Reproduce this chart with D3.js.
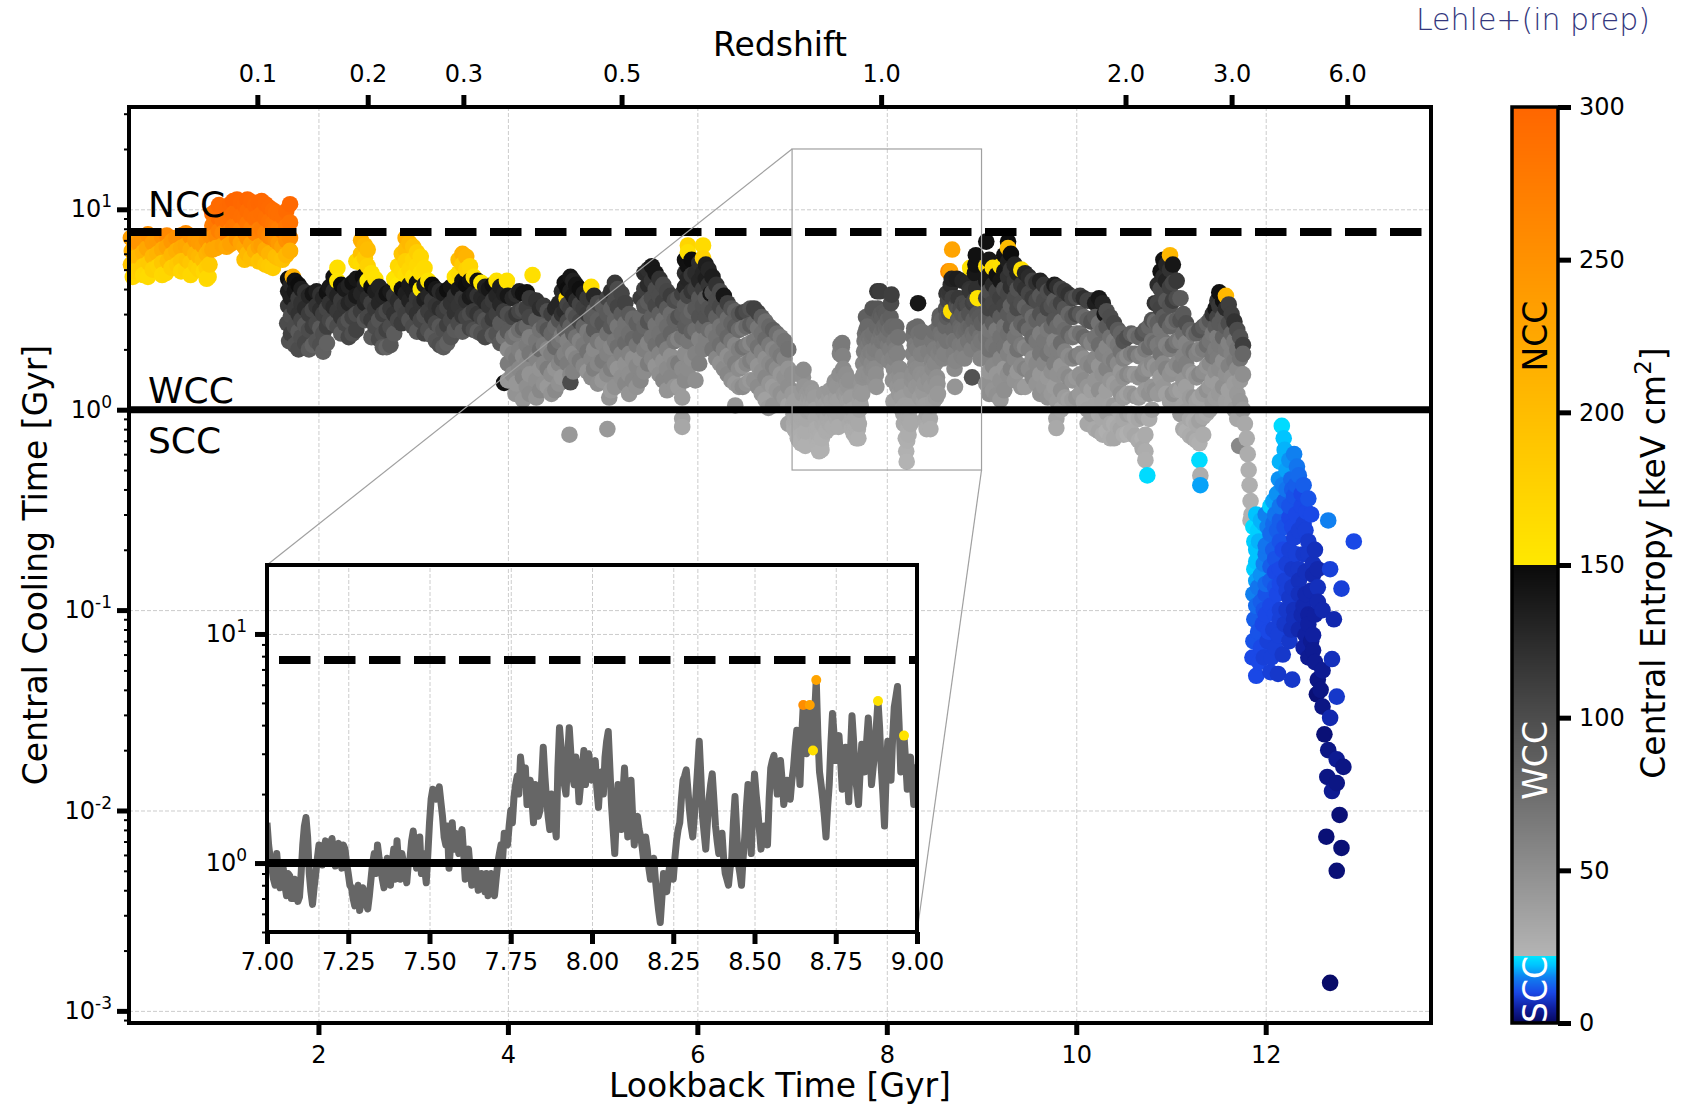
<!DOCTYPE html>
<html><head><meta charset="utf-8">
<script src="https://cdn.jsdelivr.net/npm/d3@7"></script>
<style>
body{margin:0;background:#fff;}
svg text{font-family:"DejaVu Sans",sans-serif;}
</style></head><body>
<svg id="chart" width="1683" height="1107"></svg>
<script>
// ---------------- DATA: [lookback time (Gyr), central cooling time (Gyr), central entropy (keV cm^2)]
const nccEpoch = [
[0.02,7.2,235],[0.03,6.2,215],[0.02,5.3,190],[0.04,4.6,170],
[0.1,6.8,245],[0.1,5.8,205],[0.12,5.0,180],
[0.2,7.5,250],[0.19,6.4,225],[0.21,5.4,185],[0.2,4.6,165],
[0.3,7.0,240],[0.3,6.0,210],[0.31,5.2,175],
[0.4,7.4,260],[0.4,6.5,230],[0.41,5.5,200],[0.39,4.8,170],
[0.5,7.2,250],[0.5,6.2,215],[0.51,5.3,185],
[0.6,7.6,255],[0.6,6.6,225],[0.61,5.6,195],[0.6,5.0,175],
[0.7,7.0,240],[0.7,6.0,210],[0.71,5.2,180],
[0.78,6.6,235],[0.78,5.6,200],[0.79,4.9,170],
[0.85,7.5,250],[0.85,6.3,215],[0.85,5.3,185],[0.84,4.6,168],
[0.88,9.5,285],[0.88,8.3,275],[0.88,7.2,250],[0.88,6.3,225],
[0.95,10.5,295],[0.95,9.0,290],[0.95,7.8,270],
[1.03,10.0,295],[1.03,8.8,285],[1.03,7.5,265],[1.03,6.5,225],
[1.1,11.0,300],[1.1,9.5,290],[1.1,8.2,280],
[1.18,10.8,298],[1.18,9.2,290],[1.18,7.9,270],[1.18,6.8,230],
[1.25,11.2,300],[1.25,9.8,292],[1.25,8.5,280],[1.25,7.2,250],[1.25,6.0,205],
[1.33,10.5,295],[1.33,9.0,288],[1.33,7.6,265],[1.33,6.2,215],
[1.4,11.0,298],[1.4,9.5,290],[1.4,8.0,275],[1.4,6.6,235],[1.4,5.6,195],
[1.48,10.2,295],[1.48,8.7,285],[1.48,7.3,260],[1.48,6.0,210],[1.48,5.2,185],
[1.55,9.6,290],[1.55,8.2,278],[1.55,7.0,250],[1.55,5.8,200],
[1.62,9.2,290],[1.62,7.8,270],[1.62,6.5,230],[1.62,5.6,195],
[1.7,10.6,298],[1.7,8.6,285],[1.7,7.2,255],[1.7,6.2,215],
[1.73,4.6,215]
];
const nccEpochFill = [
[0.06,6.7,228],[0.06,5.7,200],[0.06,4.9,176],
[0.15,7.2,245],[0.15,6.1,212],[0.15,5.2,182],[0.15,4.7,168],
[0.25,6.8,238],[0.25,5.8,205],[0.25,5.0,178],
[0.35,7.3,250],[0.35,6.3,220],[0.35,5.4,188],[0.35,4.7,168],
[0.45,6.9,242],[0.45,5.9,208],[0.45,5.1,180],
[0.55,7.4,252],[0.55,6.4,222],[0.55,5.5,192],[0.55,4.9,172],
[0.65,7.3,248],[0.65,6.3,218],[0.65,5.4,188],[0.65,4.7,170],
[0.74,6.8,238],[0.74,5.8,205],[0.74,5.0,176],
[0.82,7.0,245],[0.82,6.0,210],[0.82,5.1,180],[0.82,4.5,166],
[0.92,9.8,290],[0.92,8.5,278],[0.92,7.4,258],[0.92,6.4,225],
[0.99,10.2,294],[0.99,8.8,284],[0.99,7.6,262],[0.99,6.6,230],
[1.07,10.6,296],[1.07,9.1,287],[1.07,7.8,268],[1.07,6.7,232],
[1.14,11.2,300],[1.14,9.6,291],[1.14,8.3,278],[1.14,7.1,248],
[1.22,10.5,296],[1.22,9.0,288],[1.22,7.7,266],[1.22,6.5,225],[1.22,5.6,195],
[1.29,10.9,298],[1.29,9.4,290],[1.29,8.0,272],[1.29,6.7,232],[1.29,5.7,198],
[1.37,10.8,298],[1.37,9.2,289],[1.37,7.9,270],[1.37,6.5,228],[1.37,5.5,192],
[1.44,10.6,296],[1.44,9.0,288],[1.44,7.6,266],[1.44,6.3,220],[1.44,5.3,188],
[1.52,9.9,292],[1.52,8.5,282],[1.52,7.2,256],[1.52,6.0,210],[1.52,5.1,182],
[1.58,9.4,290],[1.58,8.0,274],[1.58,6.8,240],[1.58,5.7,198],
[1.66,9.8,294],[1.66,8.2,280],[1.66,7.0,250],[1.66,5.9,205]
];
const earlyWcc = [
[1.68,4.5,145],[1.68,3.9,135],[1.68,3.3,115],[1.67,2.7,100],[1.69,2.2,96],
[1.75,4.4,145],[1.75,3.9,140],[1.75,3.2,115],[1.75,2.6,100],[1.75,2.1,95],
[1.82,4.0,135],[1.82,3.4,120],[1.82,2.8,105],[1.82,2.3,98],
[1.9,3.7,130],[1.9,3.0,112],[1.9,2.5,100],[1.9,2.0,90],
[1.98,3.9,135],[1.98,3.3,118],[1.98,2.7,104],[1.98,2.2,94],
[2.05,3.6,128],[2.05,3.0,110],[2.05,2.4,98],[2.05,1.95,85],
[2.12,4.1,140],[2.12,3.4,120],[2.12,2.8,105],
[2.2,5.1,160],[2.2,4.4,155],[2.2,3.7,132],[2.2,3.1,115],[2.2,2.6,100],
[2.28,4.0,138],[2.28,3.3,118],[2.28,2.7,103],
[2.36,4.3,145],[2.36,3.5,125],[2.36,2.9,108],[2.36,2.4,97],
[2.45,7.0,215],[2.45,6.0,195],[2.45,5.4,165],[2.47,4.6,148],[2.45,3.8,130],[2.45,3.1,112],
[2.52,6.3,200],[2.52,5.2,175],[2.52,4.4,150],[2.52,3.6,125],[2.52,2.9,105],
[2.6,4.5,158],[2.6,3.9,135],[2.6,3.2,115],[2.6,2.6,100],
[2.68,3.7,130],[2.68,3.0,110],[2.68,2.4,97],[2.68,2.05,90],
[2.76,3.9,138],[2.76,3.2,115],[2.76,2.6,100],[2.76,2.1,92],
[2.84,5.2,168],[2.84,4.2,150],[2.84,3.5,125],[2.84,2.8,105],
[2.92,7.2,215],[2.92,6.3,200],[2.92,5.5,178],[2.92,4.7,160],[2.92,3.8,135],[2.92,3.0,110],
[3.0,6.5,195],[3.0,5.6,172],[3.0,4.6,158],[3.0,3.9,138],[3.0,3.2,115],[3.0,2.6,100],
[3.08,5.8,170],[3.08,4.8,162],[3.08,4.0,150],[3.08,3.4,120],[3.08,2.8,105],
[3.16,4.4,155],[3.16,3.7,130],[3.16,3.1,112],[3.16,2.5,98],
[3.24,4.0,140],[3.24,3.3,118],[3.24,2.7,103],[3.24,2.2,94],
[3.32,3.8,135],[3.32,3.1,112],[3.32,2.5,98],[3.32,2.05,88],
[3.4,4.1,142],[3.4,3.4,120],[3.4,2.8,104],[3.4,2.3,95],
[3.48,5.6,200],[3.48,4.8,165],[3.48,4.0,140],[3.48,3.3,118],[3.48,2.7,102],
[3.56,5.8,210],[3.56,5.0,175],[3.56,4.2,148],[3.56,3.5,122],[3.56,2.9,106],
[3.64,4.6,160],[3.64,3.8,135],[3.64,3.1,112],[3.64,2.5,98],
[3.72,4.3,150],[3.72,3.6,128],[3.72,2.9,106],[3.72,2.4,96],
[3.8,4.0,140],[3.8,3.3,118],[3.8,2.7,102],
[3.88,4.4,158],[3.88,3.7,130],[3.88,3.0,110],[3.88,2.4,95],
[3.96,3.8,133],[3.96,3.1,112],[3.96,2.3,70],[3.96,1.36,145],[3.99,4.4,158],
[4.05,3.6,128],[4.05,2.9,105],[4.05,2.3,72],[4.05,1.9,60],[4.05,1.5,52],[4.08,1.2,47],
[4.12,3.9,135],[4.12,3.1,105],[4.12,2.5,75],[4.12,2.0,62],[4.12,1.6,55],[4.16,1.12,44],
[4.2,3.85,145],[4.2,3.2,110],[4.2,2.6,80],[4.2,2.1,65],[4.2,1.7,55],[4.2,1.3,50],
[4.26,4.7,160]
];
const earlyWccFill = [
[1.71,4.2,130],[1.71,3.6,135],[1.71,2.95,98],[1.71,2.4,108],
[1.79,4.2,148],[1.79,3.6,113],[1.79,3.0,120],[1.79,2.45,90],[1.79,2.0,100],
[1.86,3.85,120],[1.86,3.2,125],[1.86,2.65,92],[1.86,2.15,104],
[1.94,3.8,142],[1.94,3.15,104],[1.94,2.6,110],[1.94,2.1,84],
[2.02,3.75,120],[2.02,3.15,124],[2.02,2.55,90],[2.02,2.1,98],
[2.09,3.85,144],[2.09,3.2,105],[2.09,2.6,110],[2.09,2.15,84],
[2.16,4.6,145],[2.16,3.9,126],[2.16,3.25,126],[2.16,2.7,92],
[2.24,4.2,148],[2.24,3.5,114],[2.24,2.9,118],[2.24,2.4,88],
[2.32,4.15,132],[2.32,3.4,130],[2.32,2.8,95],[2.32,2.3,104],
[2.4,5.5,168],[2.4,4.5,140],[2.4,3.7,138],[2.4,3.0,100],[2.4,2.5,108],
[2.49,6.6,205],[2.49,5.7,182],[2.49,4.2,132],[2.49,3.4,130],[2.49,2.8,94],
[2.56,4.8,160],[2.56,4.1,148],[2.56,3.4,110],[2.56,2.8,114],[2.56,2.3,88],
[2.64,4.1,132],[2.64,3.4,130],[2.64,2.8,94],[2.64,2.25,102],
[2.72,3.8,143],[2.72,3.1,102],[2.72,2.5,108],[2.72,2.05,82],
[2.8,4.5,155],[2.8,3.7,120],[2.8,3.0,120],[2.8,2.4,88],
[2.88,6.0,190],[2.88,4.9,165],[2.88,4.0,148],[2.88,3.3,108],[2.88,2.7,112],
[2.96,6.8,205],[2.96,5.0,170],[2.96,4.2,138],[2.96,3.5,132],[2.96,2.8,96],
[3.04,6.1,180],[3.04,5.2,168],[3.04,4.3,145],[3.04,3.6,116],[3.04,3.0,120],[3.04,2.45,90],
[3.12,5.1,165],[3.12,4.2,136],[3.12,3.55,134],[3.12,2.95,98],[3.12,2.4,106],
[3.2,4.2,148],[3.2,3.5,114],[3.2,2.9,116],[3.2,2.35,88],
[3.28,3.9,126],[3.28,3.2,124],[3.28,2.6,92],[3.28,2.1,98],
[3.36,3.95,146],[3.36,3.25,106],[3.36,2.65,110],[3.36,2.15,84],
[3.44,4.6,158],[3.44,3.7,120],[3.44,3.05,120],[3.44,2.5,90],
[3.52,6.0,215],[3.52,5.3,185],[3.52,4.4,145],[3.52,3.6,116],[3.52,2.95,116],[3.52,2.45,88],
[3.6,5.2,172],[3.6,4.4,145],[3.6,3.65,138],[3.6,3.0,100],[3.6,2.55,106],
[3.68,4.4,145],[3.68,3.7,120],[3.68,3.0,118],[3.68,2.45,88],
[3.76,4.1,133],[3.76,3.45,130],[3.76,2.8,95],[3.76,2.3,103],
[3.84,4.2,145],[3.84,3.5,114],[3.84,2.85,114],[3.84,2.35,87],
[3.92,4.1,135],[3.92,3.35,128],[3.92,2.7,90],[3.92,2.15,90],
[4.0,3.7,140],[4.0,3.0,98],[4.0,2.45,90],[4.0,2.0,54],[4.0,1.7,64],[4.0,1.4,44],
[4.09,3.75,122],[4.09,3.0,115],[4.09,2.4,66],[4.09,1.8,66],[4.09,1.35,44],
[4.16,3.8,145],[4.16,3.15,98],[4.16,2.55,88],[4.16,1.85,52],[4.16,1.45,58],
[4.23,3.6,115],[4.23,2.9,105],[4.23,2.3,62],[4.23,1.9,68],[4.23,1.5,46],[4.23,1.2,52]
];
const midWcc = [
[4.3,3.5,120],[4.3,2.8,90],[4.3,2.2,68],[4.3,1.8,58],[4.3,1.4,50],[4.3,1.15,45],
[4.38,3.3,115],[4.38,2.6,85],[4.38,2.1,66],[4.38,1.7,56],[4.38,1.35,48],
[4.46,3.0,110],[4.46,2.4,80],[4.46,1.9,62],[4.46,1.5,52],[4.46,1.2,46],
[4.54,3.4,130],[4.54,2.8,95],[4.54,2.2,70],[4.54,1.7,56],[4.54,1.35,48],
[4.6,4.3,145],[4.62,3.6,165],[4.6,3.1,125],[4.6,2.5,85],[4.6,1.9,60],
[4.66,4.6,140],[4.66,3.9,135],[4.66,3.2,110],[4.66,2.6,85],[4.66,2.0,62],[4.66,1.5,55],[4.66,1.37,100],[4.65,0.75,42],
[4.72,4.2,142],[4.72,3.5,125],[4.72,2.9,98],[4.72,2.3,72],[4.72,1.8,58],
[4.8,3.8,135],[4.8,3.2,110],[4.8,2.6,82],[4.8,2.1,66],[4.8,1.65,56],
[4.88,4.1,160],[4.88,3.5,115],[4.88,2.9,90],[4.88,2.3,70],[4.88,1.8,57],[4.88,1.45,52],
[4.95,3.4,100],[4.95,2.8,85],[4.95,2.2,68],[4.95,1.7,56],[4.95,1.35,50],
[5.05,3.6,105],[5.05,3.0,90],[5.05,2.4,72],[5.05,1.9,60],[5.05,1.5,52],[5.07,1.15,45],[5.05,0.8,42],
[5.13,4.3,115],[5.13,3.5,100],[5.13,2.8,82],[5.13,2.2,68],[5.13,1.7,56],[5.13,1.3,48],
[5.2,3.8,105],[5.2,3.0,88],[5.2,2.4,72],[5.2,1.9,60],[5.2,1.45,50],
[5.28,3.0,90],[5.28,2.4,74],[5.28,1.9,60],[5.28,1.5,50],[5.28,1.2,45],
[5.36,2.7,85],[5.36,2.1,68],[5.36,1.65,56],[5.36,1.3,47],
[5.44,4.8,125],[5.44,4.0,110],[5.44,3.3,95],[5.44,2.6,80],[5.44,2.0,62],[5.44,1.55,52],
[5.52,5.2,140],[5.52,4.4,118],[5.52,3.6,100],[5.52,2.9,86],[5.52,2.3,70],[5.52,1.8,57],
[5.6,4.5,120],[5.6,3.7,100],[5.6,3.0,86],[5.6,2.4,72],[5.6,1.9,58],[5.6,1.5,50],
[5.68,3.9,105],[5.68,3.2,90],[5.68,2.6,76],[5.68,2.0,62],[5.68,1.6,53],[5.68,1.25,46],
[5.76,3.5,100],[5.76,2.8,82],[5.76,2.2,68],[5.76,1.7,55],[5.76,1.3,46],
[5.84,3.8,110],[5.84,3.0,88],[5.84,2.3,70],[5.84,1.6,52],[5.84,1.15,40],[5.84,0.9,35],[5.84,0.82,32],
[5.9,6.6,172],[5.9,6.1,160],[5.9,5.2,145],[5.9,4.5,130],[5.9,3.7,105],[5.9,2.9,86],[5.9,2.2,68],[5.9,1.6,52],
[5.98,4.8,125],[5.98,4.0,110],[5.98,3.2,92],[5.98,2.5,75],[5.98,1.9,60],[5.98,1.4,50],
[6.06,6.6,165],[6.06,5.7,175],[6.06,4.8,130],[6.06,4.0,112],[6.06,3.3,95],[6.06,2.6,78],[6.06,2.0,62],
[6.12,5.0,130],[6.12,4.2,118],[6.14,3.8,140],[6.12,3.2,95],[6.12,2.5,76],
[6.2,4.2,120],[6.2,3.5,100],[6.2,2.9,85],[6.2,2.3,70],[6.2,1.8,56],
[6.28,3.7,140],[6.28,3.1,92],[6.28,2.5,76],[6.28,2.0,62],[6.28,1.6,53],
[6.36,3.2,95],[6.36,2.7,82],[6.36,2.2,68],[6.36,1.8,56],[6.36,1.4,48],[6.4,1.05,42],
[6.44,3.0,92],[6.44,2.5,76],[6.44,2.0,62],[6.44,1.6,52],[6.44,1.3,46],
[6.52,3.1,100],[6.52,2.6,78],[6.52,2.1,64],[6.52,1.7,55],[6.52,1.35,47],
[6.6,3.2,108],[6.6,2.7,80],[6.6,2.2,66],[6.6,1.8,55],[6.6,1.4,48],
[6.68,2.9,88],[6.68,2.4,72],[6.68,1.95,60],[6.68,1.55,50],[6.68,1.2,44],
[6.76,2.6,80],[6.76,2.1,66],[6.76,1.7,54],[6.76,1.35,46],[6.75,1.02,40],
[6.84,2.4,74],[6.84,1.95,62],[6.84,1.6,52],[6.84,1.25,44],
[6.92,2.2,70],[6.92,1.8,57],[6.92,1.45,48],[6.92,1.15,42]
];
const midWccFill = [
[4.34,3.2,124],[4.34,2.5,72],[4.34,2.0,76],[4.34,1.6,46],[4.34,1.25,55],
[4.42,3.1,98],[4.42,2.5,94],[4.42,2.0,55],[4.42,1.6,64],[4.42,1.3,42],
[4.5,3.2,130],[4.5,2.6,78],[4.5,2.05,78],[4.5,1.6,46],[4.5,1.25,54],
[4.57,3.9,126],[4.57,3.0,120],[4.57,2.35,64],[4.57,1.8,68],[4.57,1.45,44],
[4.63,4.0,148],[4.63,3.35,106],[4.63,2.75,102],[4.63,2.2,60],[4.63,1.7,64],
[4.69,4.4,132],[4.69,3.7,140],[4.69,3.0,90],[4.69,2.4,86],[4.69,1.9,52],[4.69,1.55,60],
[4.76,4.0,146],[4.76,3.35,106],[4.76,2.75,104],[4.76,2.2,60],[4.76,1.75,66],
[4.84,3.6,115],[4.84,3.0,112],[4.84,2.45,66],[4.84,1.95,72],[4.84,1.55,46],
[4.91,3.7,128],[4.91,3.1,88],[4.91,2.5,90],[4.91,2.0,54],[4.91,1.6,62],
[5.0,3.3,88],[5.0,2.7,94],[5.0,2.15,58],[5.0,1.75,66],[5.0,1.4,44],
[5.09,3.9,122],[5.09,3.2,84],[5.09,2.6,90],[5.09,2.05,56],[5.09,1.6,62],[5.09,1.25,40],
[5.16,4.0,100],[5.16,3.25,106],[5.16,2.6,68],[5.16,2.05,74],[5.16,1.6,46],
[5.24,3.4,108],[5.24,2.7,72],[5.24,2.15,78],[5.24,1.7,48],[5.24,1.35,56],
[5.32,2.85,78],[5.32,2.25,80],[5.32,1.8,50],[5.32,1.4,56],
[5.4,3.6,114],[5.4,2.9,78],[5.4,2.3,82],[5.4,1.8,50],[5.4,1.4,56],
[5.48,5.0,122],[5.48,4.2,126],[5.48,3.45,88],[5.48,2.75,94],[5.48,2.15,58],[5.48,1.7,64],
[5.56,4.8,140],[5.56,4.0,100],[5.56,3.3,104],[5.56,2.65,70],[5.56,2.1,74],[5.56,1.65,46],
[5.64,4.2,102],[5.64,3.45,108],[5.64,2.8,72],[5.64,2.2,78],[5.64,1.75,48],[5.64,1.4,56],
[5.72,3.7,112],[5.72,3.0,76],[5.72,2.4,82],[5.72,1.85,50],[5.72,1.45,56],
[5.8,3.6,94],[5.8,2.9,96],[5.8,2.25,60],[5.8,1.7,64],[5.8,1.3,40],
[5.87,5.6,145],[5.87,4.8,124],[5.87,4.1,128],[5.87,3.3,86],[5.87,2.6,88],[5.87,1.9,52],[5.87,1.4,54],
[5.94,5.6,148],[5.94,4.7,116],[5.94,3.9,118],[5.94,3.1,80],[5.94,2.45,84],[5.94,1.8,50],
[6.02,5.4,124],[6.02,4.4,130],[6.02,3.6,92],[6.02,2.9,96],[6.02,2.25,60],[6.02,1.7,62],
[6.09,5.3,135],[6.09,4.5,135],[6.09,3.6,90],[6.09,2.9,96],[6.09,2.25,62],
[6.16,4.6,136],[6.16,3.85,98],[6.16,3.1,100],[6.16,2.45,66],[6.16,2.0,70],
[6.24,3.9,102],[6.24,3.25,104],[6.24,2.6,70],[6.24,2.1,74],[6.24,1.7,48],
[6.32,3.4,110],[6.32,2.85,76],[6.32,2.3,80],[6.32,1.85,50],[6.32,1.5,56],
[6.4,3.1,84],[6.4,2.6,88],[6.4,2.1,56],[6.4,1.7,62],[6.4,1.35,42],
[6.48,3.05,106],[6.48,2.55,68],[6.48,2.05,72],[6.48,1.65,46],[6.48,1.3,52],
[6.56,3.2,95],[6.56,2.65,88],[6.56,2.15,56],[6.56,1.75,62],[6.56,1.4,42],
[6.64,3.05,108],[6.64,2.55,68],[6.64,2.05,72],[6.64,1.65,46],[6.64,1.3,52],
[6.72,2.75,74],[6.72,2.25,78],[6.72,1.8,50],[6.72,1.45,56],[6.72,1.12,36],
[6.8,2.5,86],[6.8,2.0,56],[6.8,1.65,60],[6.8,1.3,40],[6.8,1.05,46],
[6.88,2.3,64],[6.88,1.85,66],[6.88,1.5,44],[6.88,1.2,48],
[6.96,2.0,72],[6.96,1.6,46],[6.96,1.3,50],[6.96,1.05,34],[6.96,0.85,36]
];
// zoom window, 7-9 Gyr (also drawn in the inset)
const zoomWindow = [
[7.00,1.50,50],[7.01,1.05,37],[7.02,0.85,30],[7.03,1.10,38],[7.04,0.78,28],[7.05,0.95,33],[7.06,0.72,26],[7.07,0.88,31],[7.08,0.70,26],[7.09,0.74,27],
[7.10,0.71,26],[7.11,1.20,42],[7.12,1.58,52],[7.13,0.90,31],[7.14,0.66,25],[7.15,0.90,31],[7.16,1.20,42],[7.17,0.98,34],[7.18,1.25,43],[7.19,1.05,37],
[7.20,1.28,44],[7.21,0.97,34],[7.22,1.22,42],[7.23,0.95,33],[7.24,1.15,40],[7.25,0.90,31],[7.26,0.78,28],[7.27,0.65,25],[7.28,0.80,28],[7.29,0.68,25],
[7.30,0.74,27],[7.31,0.63,24],[7.32,0.85,30],[7.33,1.10,38],[7.34,1.20,42],[7.35,0.95,33],[7.36,0.78,28],[7.37,1.05,37],[7.38,0.80,28],[7.39,1.15,40],
[7.40,1.25,43],[7.41,0.85,30],[7.42,1.00,35],[7.43,0.82,29],[7.44,1.05,37],[7.45,1.38,47],[7.46,0.95,33],[7.47,1.30,45],[7.48,1.10,38],[7.49,0.82,29],
[7.50,1.50,50],[7.51,2.10,65],[7.52,1.90,60],[7.53,2.15,66],[7.54,1.60,53],[7.55,1.20,42],[7.56,0.95,33],[7.57,1.50,50],[7.58,1.35,46],[7.59,1.10,38],
[7.60,1.40,48],[7.61,0.85,30],[7.62,1.15,40],[7.63,0.80,28],[7.64,1.00,35],[7.65,0.76,27],[7.66,0.90,31],[7.67,0.75,27],[7.68,0.72,26],[7.69,0.90,31],
[7.70,0.72,26],[7.71,1.00,35],[7.72,1.20,42],[7.73,1.35,46],[7.74,1.20,42],[7.75,1.70,55],[7.76,1.95,62],[7.77,2.40,72],[7.78,2.90,85],[7.79,2.20,68],
[7.80,1.80,58],[7.81,2.30,70],[7.82,1.50,50],[7.83,1.95,62],[7.84,1.70,55],[7.85,3.20,93],[7.86,1.90,60],[7.87,1.40,48],[7.88,1.60,53],[7.89,1.30,45],
[7.90,3.90,115],[7.91,2.60,78],[7.92,2.00,63],[7.93,3.90,112],[7.94,2.40,72],[7.95,2.90,85],[7.96,1.85,59],[7.97,2.60,78],[7.98,2.20,68],[7.99,3.00,88],
[8.00,2.30,70],[8.01,2.80,82],[8.02,1.75,57],[8.03,2.50,75],[8.04,2.90,85],[8.05,3.75,110],[8.06,1.80,58],[8.07,1.10,38],[8.08,2.20,68],[8.09,1.40,48],
[8.10,2.60,78],[8.11,1.30,45],[8.12,2.30,70],[8.13,1.20,42],[8.14,1.60,53],[8.15,1.30,45],[8.16,1.00,35],[8.17,1.15,40],[8.18,0.85,30],[8.19,1.05,37],
[8.20,0.72,26],[8.21,0.55,23],[8.22,0.90,31],[8.23,0.75,27],[8.24,1.00,35],[8.25,0.85,30],[8.26,1.25,43],[8.27,1.50,50],[8.28,2.30,70],[8.29,2.55,76],
[8.30,1.70,55],[8.31,1.30,45],[8.32,2.00,63],[8.33,3.40,140],[8.34,1.60,53],[8.35,1.15,40],[8.36,1.90,60],[8.37,2.45,73],[8.38,1.45,49],[8.39,1.10,38],
[8.40,1.35,46],[8.41,0.90,31],[8.42,0.80,28],[8.43,1.05,37],[8.44,1.95,62],[8.45,1.00,35],[8.46,0.80,28],[8.47,1.30,45],[8.48,2.20,68],[8.49,1.10,38],
[8.50,2.45,73],[8.51,1.70,55],[8.52,1.15,40],[8.53,1.45,49],[8.54,1.20,42],[8.55,2.60,78],[8.56,2.95,86],[8.57,2.00,63],[8.58,2.80,82],[8.59,1.80,58],
[8.60,2.30,70],[8.61,1.90,60],[8.62,2.60,80],[8.63,3.80,118],[8.64,2.20,70],[8.65,4.90,255],[8.66,3.00,95],[8.67,4.90,232],[8.68,3.10,160],[8.69,6.30,228],
[8.70,2.50,80],[8.71,1.90,62],[8.72,1.30,45],[8.73,2.20,70],[8.74,4.50,135],[8.75,2.80,88],[8.76,3.60,115],[8.77,2.10,66],[8.78,3.20,100],[8.79,1.85,59],
[8.80,4.40,130],[8.81,2.40,75],[8.82,1.80,58],[8.83,3.30,105],[8.84,2.50,78],[8.85,4.30,128],[8.86,2.20,70],[8.87,3.00,95],[8.88,5.10,157],[8.89,2.60,82],
[8.90,1.45,95],[8.91,3.40,108],[8.92,2.30,72],[8.93,4.80,140],[8.94,5.90,145],[8.95,2.50,78],[8.96,3.60,156],[8.97,2.10,66],[8.98,2.90,90],[8.99,1.80,58],
[9.00,2.70,85]
];
const zoomWindowFine = [
[7.005,1.2,42],[7.015,0.95,33],[7.025,0.8,28],[7.035,0.9,31],[7.045,0.85,30],[7.055,0.8,28],[7.065,0.9,31],[7.075,0.7,26],[7.085,0.85,30],[7.095,0.68,25],
[7.105,0.9,31],[7.115,1.45,49],[7.125,1.3,45],[7.135,0.75,27],[7.145,0.78,28],[7.155,1.05,37],[7.165,1.1,38],[7.175,1.15,40],[7.185,1.0,35],[7.195,1.2,42],
[7.205,1.1,38],[7.215,1.15,40],[7.225,1.05,37],[7.235,1.2,42],[7.245,1.0,35],[7.255,0.8,28],[7.265,0.7,26],[7.275,0.75,27],[7.285,0.62,24],[7.295,0.78,28],
[7.305,0.66,25],[7.315,0.72,26],[7.325,1.0,35],[7.335,0.9,31],[7.345,1.05,37],[7.355,0.85,30],[7.365,0.95,33],[7.375,0.9,31],[7.385,1.0,35],[7.395,0.85,30],
[7.405,1.0,35],[7.415,1.1,38],[7.425,0.9,31],[7.435,1.0,35],[7.445,1.25,43],[7.455,1.1,38],[7.465,1.15,40],[7.475,0.9,31],[7.485,0.95,33],[7.495,1.1,38],
[7.505,1.9,60],[7.515,2.0,63],[7.525,2.05,64],[7.535,1.85,59],[7.545,1.3,45],[7.555,1.45,49],[7.565,1.2,42],[7.575,1.15,40],[7.585,1.25,43],[7.595,1.3,45],
[7.605,1.1,38],[7.615,1.0,35],[7.625,0.95,33],[7.635,0.9,31],[7.645,0.88,31],[7.655,0.82,29],[7.665,0.8,28],[7.675,0.9,31],[7.685,0.78,28],[7.695,0.8,28],
[7.705,0.85,30],[7.715,1.1,38],[7.725,1.05,37],[7.735,1.25,43],[7.745,1.45,49],[7.755,1.5,50],[7.765,2.2,68],[7.775,2.0,63],[7.785,2.5,75],[7.795,2.6,78],
[7.805,2.1,65],[7.815,1.9,60],[7.825,2.2,68],[7.835,1.6,53],[7.845,2.3,70],[7.855,2.4,72],[7.865,1.6,53],[7.875,2.0,63],[7.885,1.5,50],[7.895,2.6,78],
[7.905,3.2,93],[7.915,2.2,68],[7.925,2.9,85],[7.935,3.0,88],[7.945,2.2,68],[7.955,2.5,75],[7.965,2.2,68],[7.975,3.1,90],[7.985,2.6,78],[7.995,2.5,75],
[8.005,2.6,78],[8.015,2.1,65],[8.025,2.3,70],[8.035,2.0,63],[8.045,3.4,100],[8.055,2.6,78],[8.065,1.4,48],[8.075,1.6,53],[8.085,1.8,58],[8.095,2.0,63],
[8.105,1.9,60],[8.115,1.9,60],[8.125,1.6,53],[8.135,1.5,50],[8.145,1.4,48],[8.155,1.15,40],[8.165,1.3,45],[8.175,0.95,33],[8.185,0.95,33],[8.195,0.85,30],
[8.205,0.62,24],[8.215,0.7,26],[8.225,0.8,28],[8.235,0.88,31],[8.245,0.9,31],[8.255,1.05,37],[8.265,1.4,48],[8.275,1.9,60],[8.285,2.4,72],[8.295,2.1,65],
[8.305,1.45,49],[8.315,1.6,53],[8.325,2.6,78],[8.335,2.4,72],[8.345,1.35,46],[8.355,1.5,50],[8.365,2.2,68],[8.375,1.9,60],[8.385,1.25,43],[8.395,1.2,42],
[8.405,1.05,37],[8.415,0.85,30],[8.425,0.95,33],[8.435,1.5,50],[8.445,1.4,48],[8.455,0.9,31],[8.465,1.05,37],[8.475,1.75,57],[8.485,1.6,53],[8.495,1.8,58],
[8.505,2.0,63],[8.515,1.4,48],[8.525,1.3,45],[8.535,1.35,46],[8.545,1.9,60],[8.555,2.8,82],[8.565,2.4,72],[8.575,2.4,72],[8.585,2.3,70],[8.595,2.0,63],
[8.605,2.1,65],[8.615,2.3,70],[8.625,3.2,95],[8.635,2.9,88],[8.645,3.5,105],[8.655,3.8,115],[8.665,3.9,118],[8.675,4.2,125],[8.685,4.5,132],[8.695,3.6,110],
[8.705,2.2,68],[8.715,1.6,53],[8.725,1.75,57],[8.735,3.3,98],[8.745,3.6,110],[8.755,3.2,95],[8.765,2.8,85],[8.775,2.6,80],[8.785,2.5,78],[8.795,3.0,90],
[8.805,3.4,102],[8.815,2.1,65],[8.825,2.5,76],[8.835,2.9,88],[8.845,3.4,102],[8.855,3.3,100],[8.865,2.6,80],[8.875,4.0,120],[8.885,3.9,118],[8.895,2.0,63],
[8.905,2.4,74],[8.915,2.8,85],[8.925,3.5,105],[8.935,5.3,145],[8.945,4.0,122],[8.955,3.0,92],[8.965,2.8,85],[8.975,2.5,78],[8.985,2.3,72],[8.995,2.2,68]
];
const lateWcc = [
[9.05,6.9,145],[9.05,5.2,160],[9.05,4.4,140],[9.05,3.6,110],[9.05,2.9,90],[9.05,2.3,72],[9.05,1.8,58],[9.05,1.35,48],
[9.12,5.1,165],[9.12,4.2,125],[9.12,3.4,105],[9.12,2.7,85],[9.12,2.1,68],[9.12,1.65,55],[9.12,1.25,46],
[9.2,5.2,160],[9.2,4.4,140],[9.2,3.6,110],[9.2,2.9,88],[9.2,2.3,72],[9.2,1.8,57],[9.2,1.4,48],[9.2,1.12,42],
[9.28,6.9,148],[9.28,6.4,200],[9.28,5.5,135],[9.28,4.6,120],[9.28,3.8,105],[9.28,3.0,90],[9.28,2.4,74],[9.28,1.9,60],[9.28,1.5,50],
[9.35,5.3,130],[9.35,4.4,115],[9.35,3.6,100],[9.35,2.9,86],[9.35,2.3,70],[9.35,1.8,56],[9.35,1.4,47],
[9.42,5.0,160],[9.42,4.2,115],[9.42,3.4,98],[9.42,2.7,82],[9.42,2.1,66],[9.42,1.65,54],[9.42,1.3,46],
[9.5,4.6,125],[9.5,3.8,105],[9.5,3.1,90],[9.5,2.5,76],[9.5,2.0,62],[9.5,1.6,52],
[9.58,4.3,120],[9.58,3.5,100],[9.58,2.8,84],[9.58,2.2,68],[9.58,1.7,55],[9.58,1.35,46],
[9.66,4.2,118],[9.66,3.5,100],[9.66,2.8,84],[9.66,2.2,68],[9.66,1.7,55],[9.66,1.3,45],
[9.74,4.0,115],[9.74,3.3,96],[9.74,2.6,78],[9.74,2.0,62],[9.74,1.55,50],[9.74,1.2,42],
[9.8,4.1,122],[9.8,3.3,95],[9.8,2.6,78],[9.8,2.0,62],[9.8,1.5,48],[9.8,1.1,40],[9.79,0.9,33],[9.79,0.81,30],
[9.88,3.9,115],[9.88,3.2,94],[9.88,2.5,76],[9.88,1.95,60],[9.88,1.5,48],[9.88,1.15,40],
[9.96,3.6,105],[9.96,2.9,88],[9.96,2.3,70],[9.96,1.8,57],[9.96,1.4,46],[9.96,1.12,40],
[10.04,3.7,110],[10.04,3.0,90],[10.04,2.4,72],[10.04,1.9,58],[10.04,1.5,48],[10.04,1.2,42],
[10.12,3.5,108],[10.12,2.8,86],[10.12,2.2,68],[10.12,1.7,54],[10.12,1.3,45],[10.12,1.0,36],[10.12,0.85,32],
[10.2,3.4,135],[10.2,2.9,90],[10.2,2.3,70],[10.2,1.8,56],[10.2,1.4,45],[10.2,1.05,36],[10.2,0.8,30],
[10.28,3.4,130],[10.3,3.0,140],[10.28,2.5,78],[10.28,1.9,60],[10.28,1.5,48],[10.28,1.1,37],[10.28,0.9,32],[10.28,0.75,29],
[10.36,2.9,100],[10.36,2.3,72],[10.36,1.8,57],[10.36,1.4,46],[10.36,1.05,36],[10.36,0.85,31],[10.36,0.72,28],
[10.44,2.5,90],[10.44,2.1,68],[10.44,1.7,54],[10.44,1.3,44],[10.44,1.0,35],[10.44,0.82,30],
[10.5,2.2,95],[10.5,1.8,60],[10.5,1.45,48],[10.5,1.15,40],[10.5,0.9,32],[10.5,0.75,28],
[10.58,2.4,85],[10.58,1.9,62],[10.58,1.5,50],[10.58,1.2,42],[10.58,0.95,33],[10.58,0.78,29],
[10.66,2.3,80],[10.66,1.85,60],[10.66,1.45,48],[10.66,1.15,40],[10.66,0.9,32],[10.66,0.7,28],
[10.73,2.5,88],[10.73,2.0,64],[10.73,1.6,52],[10.73,1.25,42],[10.73,0.95,33],[10.73,0.75,29],[10.73,0.62,27],[10.73,0.56,26],[10.75,0.47,21],
[10.8,2.8,95],[10.8,2.2,70],[10.8,1.7,55],[10.8,1.3,45],[10.8,1.0,36],
[10.86,4.2,125],[10.86,3.4,105],[10.86,2.7,85],[10.86,2.1,66],[10.86,1.6,52],[10.86,1.2,42],
[10.92,5.6,145],[10.92,4.6,125],[10.92,3.7,105],[10.92,2.9,88],[10.92,2.2,68],[10.92,1.7,54],[10.92,1.3,44],
[10.99,5.9,205],[10.99,5.0,120],[10.99,4.1,110],[10.99,3.3,96],[10.99,2.6,80],[10.99,2.0,62],[10.99,1.5,48],[10.99,1.1,38],
[11.06,4.4,115],[11.06,3.6,100],[11.06,2.8,85],[11.06,2.2,68],[11.06,1.7,54],[11.06,1.25,42],
[11.13,3.0,90],[11.13,2.4,74],[11.13,1.85,58],[11.13,1.4,46],[11.13,1.05,36],[11.13,0.8,30],
[11.2,2.5,85],[11.2,2.0,64],[11.2,1.55,50],[11.2,1.15,40],[11.2,0.9,32],[11.2,0.74,28],
[11.27,2.4,82],[11.27,1.9,60],[11.27,1.45,48],[11.27,1.1,38],[11.27,0.85,30],[11.27,0.7,27],
[11.34,2.6,88],[11.34,2.0,64],[11.34,1.55,50],[11.34,1.2,40],[11.34,0.92,32],[11.34,0.75,28],
[11.3,0.56,21],[11.31,0.47,27],[11.31,0.42,17],
[11.41,2.8,92],[11.41,2.2,70],[11.41,1.7,54],[11.41,1.3,43],[11.41,1.0,35],
[11.47,3.2,140],[11.47,2.6,88],[11.47,2.0,64],[11.47,1.55,50],[11.47,1.15,40],
[11.51,3.85,145],[11.51,3.3,115],[11.51,2.7,90],[11.51,2.1,66],[11.51,1.6,52],[11.51,1.2,42],
[11.58,3.7,205],[11.58,3.2,125],[11.58,2.6,88],[11.58,2.0,64],[11.58,1.5,48],[11.58,1.1,38],
[11.64,3.0,110],[11.64,2.4,80],[11.64,1.9,60],[11.64,1.45,47],[11.64,1.08,37],
[11.7,2.5,100],[11.7,2.0,70],[11.7,1.6,52],[11.7,1.2,42],[11.7,0.9,32],
[11.76,2.1,110],[11.76,1.9,80],[11.76,1.5,50]
];
const lateWccFill = [
[9.08,5.6,140],[9.08,4.7,140],[9.08,3.9,100],[9.08,3.2,106],[9.08,2.5,68],[9.08,2.0,72],[9.08,1.55,44],[9.08,1.2,50],
[9.16,4.7,145],[9.16,3.9,106],[9.16,3.1,106],[9.16,2.5,66],[9.16,2.0,72],[9.16,1.5,44],[9.16,1.18,48],
[9.24,5.9,145],[9.24,4.9,140],[9.24,4.0,100],[9.24,3.3,106],[9.24,2.6,70],[9.24,2.05,72],[9.24,1.6,44],[9.24,1.25,50],
[9.31,6.0,148],[9.31,5.0,116],[9.31,4.1,122],[9.31,3.3,84],[9.31,2.6,90],[9.31,2.05,56],[9.31,1.6,60],
[9.38,4.8,132],[9.38,4.0,96],[9.38,3.2,102],[9.38,2.55,68],[9.38,2.0,72],[9.38,1.55,44],
[9.46,4.8,130],[9.46,4.0,120],[9.46,3.25,84],[9.46,2.6,90],[9.46,2.05,56],[9.46,1.6,60],[9.46,1.3,40],
[9.54,4.4,108],[9.54,3.6,112],[9.54,2.9,76],[9.54,2.3,80],[9.54,1.8,50],[9.54,1.45,56],
[9.62,4.4,132],[9.62,3.7,92],[9.62,3.0,96],[9.62,2.4,62],[9.62,1.9,68],[9.62,1.5,44],[9.62,1.2,48],
[9.7,3.9,98],[9.7,3.2,104],[9.7,2.5,66],[9.7,1.9,70],[9.7,1.45,42],[9.7,1.15,47],
[9.77,4.2,135],[9.77,3.5,90],[9.77,2.8,94],[9.77,2.2,58],[9.77,1.7,62],[9.77,1.3,40],
[9.84,4.0,106],[9.84,3.4,108],[9.84,2.75,72],[9.84,2.15,76],[9.84,1.65,46],[9.84,1.25,50],[9.84,1.0,32],
[9.92,3.75,120],[9.92,3.0,80],[9.92,2.4,82],[9.92,1.85,52],[9.92,1.45,54],[9.92,1.12,36],
[10.0,3.65,96],[10.0,3.0,100],[10.0,2.4,62],[10.0,1.85,66],[10.0,1.45,42],[10.0,1.15,46],
[10.08,3.6,122],[10.08,2.9,78],[10.08,2.3,80],[10.08,1.8,50],[10.08,1.4,52],[10.08,1.1,34],
[10.16,3.5,108],[10.16,2.75,94],[10.16,2.15,58],[10.16,1.65,60],[10.16,1.25,38],[10.16,0.95,40],
[10.24,3.6,140],[10.24,2.7,72],[10.24,2.1,76],[10.24,1.65,46],[10.24,1.25,50],[10.24,0.95,30],[10.24,0.78,33],
[10.32,3.1,98],[10.32,2.6,90],[10.32,2.05,56],[10.32,1.6,60],[10.32,1.25,38],[10.32,0.97,40],[10.32,0.78,26],
[10.4,2.7,105],[10.4,2.2,62],[10.4,1.75,64],[10.4,1.35,40],[10.4,1.05,42],[10.4,0.85,27],[10.4,0.72,32],
[10.47,2.4,82],[10.47,1.95,72],[10.47,1.55,44],[10.47,1.2,48],[10.47,0.95,29],[10.47,0.8,34],
[10.54,2.3,98],[10.54,1.85,52],[10.54,1.5,56],[10.54,1.2,36],[10.54,0.95,38],[10.54,0.76,25],
[10.62,2.35,72],[10.62,1.9,70],[10.62,1.5,42],[10.62,1.17,47],[10.62,0.92,28],[10.62,0.74,32],
[10.7,2.4,94],[10.7,1.9,54],[10.7,1.5,56],[10.7,1.2,36],[10.7,0.92,37],[10.7,0.72,25],[10.7,0.64,30],
[10.77,2.6,80],[10.77,2.05,76],[10.77,1.6,46],[10.77,1.2,48],[10.77,0.9,28],
[10.83,3.4,120],[10.83,2.75,76],[10.83,2.15,76],[10.83,1.65,46],[10.83,1.25,50],
[10.89,4.9,145],[10.89,4.0,104],[10.89,3.2,108],[10.89,2.5,68],[10.89,1.9,70],[10.89,1.45,42],
[10.95,5.3,130],[10.95,4.4,132],[10.95,3.5,92],[10.95,2.75,94],[10.95,2.1,58],[10.95,1.6,60],[10.95,1.2,36],
[11.02,5.3,140],[11.02,4.3,104],[11.02,3.5,110],[11.02,2.75,74],[11.02,2.1,76],[11.02,1.6,46],[11.02,1.2,48],
[11.1,3.6,90],[11.1,2.8,96],[11.1,2.2,60],[11.1,1.65,62],[11.1,1.25,37],[11.1,0.95,40],
[11.16,2.7,98],[11.16,2.15,58],[11.16,1.7,62],[11.16,1.3,38],[11.16,0.98,40],[11.16,0.78,26],
[11.24,2.4,72],[11.24,1.95,72],[11.24,1.5,42],[11.24,1.15,46],[11.24,0.88,27],[11.24,0.72,32],
[11.3,2.5,95],[11.3,2.0,56],[11.3,1.5,56],[11.3,1.15,35],[11.3,0.88,36],[11.3,0.68,25],
[11.38,2.7,80],[11.38,2.1,76],[11.38,1.65,46],[11.38,1.25,48],[11.38,0.96,29],
[11.44,3.0,120],[11.44,2.4,68],[11.44,1.85,68],[11.44,1.4,40],[11.44,1.08,42],
[11.49,3.5,120],[11.49,2.9,106],[11.49,2.3,64],[11.49,1.8,64],[11.49,1.35,40],
[11.55,3.5,145],[11.55,2.9,90],[11.55,2.3,82],[11.55,1.75,50],[11.55,1.3,50],
[11.61,3.35,110],[11.61,2.7,100],[11.61,2.15,60],[11.61,1.65,60],[11.61,1.25,37],
[11.67,2.75,120],[11.67,2.2,66],[11.67,1.75,64],[11.67,1.35,40],[11.67,1.0,40],
[11.73,2.3,95],[11.73,1.8,70],[11.73,1.4,42],[11.73,1.1,44]
];
const sccEpoch = [
[11.72,0.66,55],[11.76,1.0,40],[11.78,0.85,30],[11.8,0.72,28],[11.81,0.6,27],[11.82,0.5,26],[11.83,0.42,26],[11.84,0.35,25],[11.85,0.3,24],[11.84,0.28,25],
[11.87,0.26,21],[11.88,0.22,20],
[12.17,0.83,21],[12.19,0.72,19],[12.2,0.63,18],[12.25,0.56,16],[12.3,0.6,15],[12.33,0.52,14],[12.22,0.5,17],[12.27,0.45,13],[12.35,0.47,13],[12.4,0.42,12],
[12.18,0.42,15],[12.12,0.38,16],[12.05,0.33,20],[12.2,0.35,12],[12.3,0.37,11],[12.38,0.33,10],[12.45,0.36,11],[12.1,0.3,14],[12.0,0.3,15],[12.15,0.28,12],
[12.25,0.29,10],[12.32,0.3,10],[12.4,0.27,9],[12.48,0.3,10],[11.98,0.27,18],[11.92,0.25,20],[12.05,0.24,13],[12.15,0.22,11],[12.3,0.23,9],[12.45,0.22,8],
[11.9,0.2,19],[12.0,0.19,14],[12.1,0.18,11],[12.25,0.2,9],[12.4,0.19,8],[12.22,0.17,9],[12.35,0.16,8],[12.5,0.17,7],[11.88,0.16,20],[11.95,0.15,16],
[12.1,0.155,10],[12.05,0.14,12],[12.2,0.14,9],[12.35,0.14,7],[12.5,0.15,6],[12.15,0.135,10],[12.28,0.13,8],[12.42,0.12,6],[12.55,0.13,7],[11.92,0.13,14],
[11.87,0.12,15],[12.0,0.12,11],[12.12,0.12,10],[12.25,0.115,8],[11.95,0.11,12],[12.05,0.105,10],[12.4,0.105,6],[12.55,0.11,6],[12.15,0.1,9],[12.3,0.1,7],
[12.45,0.095,5],[12.6,0.1,6],[12.0,0.095,10],[11.88,0.09,12],[12.15,0.09,9],[12.3,0.09,7],[11.97,0.085,10],[12.2,0.085,8],[12.45,0.085,5],[12.08,0.08,9],
[12.35,0.08,6],[12.5,0.075,5],[11.87,0.07,11],[12.02,0.07,9],[12.25,0.07,8],[11.95,0.065,10],[12.1,0.065,9],[11.86,0.058,10],[11.98,0.058,9],
[11.9,0.047,10],[12.05,0.049,9],[12.13,0.048,8],[12.28,0.045,8],
[12.66,0.28,15],[12.93,0.22,10],[12.68,0.16,9],[12.8,0.128,9],[12.72,0.09,6],
[12.48,0.07,4],[12.5,0.063,4],[12.52,0.055,4],[12.6,0.05,4],[12.55,0.045,3],[12.58,0.04,3],[12.54,0.038,2],[12.7,0.057,7],[12.75,0.037,8],[12.6,0.033,3],
[12.68,0.029,6],[12.62,0.024,2],[12.66,0.02,3],[12.75,0.018,4],[12.82,0.0165,3],[12.65,0.0147,3],[12.75,0.0137,3],[12.7,0.0125,4],[12.78,0.0095,2],
[12.64,0.0074,2],[12.8,0.0065,2],[12.75,0.005,2],[12.68,0.00138,1]
];
const sccEpochFill = [
[11.9,0.3,19],[11.95,0.28,18],[12.02,0.26,15],[12.08,0.27,13],[12.12,0.25,12],[12.2,0.26,11],[12.28,0.26,10],[12.35,0.25,9],[12.42,0.25,9],
[12.14,0.45,16],[12.15,0.55,18],[12.22,0.4,14],[12.28,0.4,12],[12.32,0.42,12],[12.38,0.38,10],[12.15,0.33,14],[12.25,0.33,11],[12.08,0.35,17],[12.43,0.31,10],
[11.93,0.22,18],[12.0,0.21,14],[12.08,0.2,12],[12.18,0.2,10],[12.32,0.19,9],[12.45,0.19,8],[12.52,0.2,7],
[11.9,0.175,19],[11.98,0.17,15],[12.05,0.165,12],[12.15,0.16,10],[12.28,0.16,8],[12.42,0.155,7],[12.55,0.16,6],
[11.9,0.14,17],[12.0,0.135,13],[12.1,0.13,11],[12.22,0.125,9],[12.35,0.12,7],[12.48,0.125,6],
[11.9,0.105,13],[11.98,0.1,11],[12.1,0.095,10],[12.22,0.1,8],[12.38,0.095,6],[12.52,0.095,5],
[11.92,0.078,11],[12.03,0.078,10],[12.13,0.075,9],[12.27,0.08,7],[12.42,0.075,5],
[11.93,0.055,10],[12.06,0.058,9],[12.18,0.06,8],[12.4,0.065,5],[12.45,0.058,4]
];

// axis ticks / labels
const lookbackTicks = [2,4,6,8,10,12];
const coolingTicks = [1e-3,1e-2,1e-1,1,10];
const redshiftLabels = ["0.1","0.2","0.3","0.5","1.0","2.0","3.0","6.0"];
const redshiftLookback = [1.355,2.52,3.53,5.2,7.94,10.52,11.64,12.86];
const insetTimeTicks = [7,7.25,7.5,7.75,8,8.25,8.5,8.75,9];
const insetCoolingTicks = [1,10];
const entropyTicks = [0,50,100,150,200,250,300];
const nccThreshold = 7.7, sccThreshold = 1.0;
const zoomBox = {t0:7, t1:9, c0:0.5, c1:20};

// ---------------- COLOUR MAP
const sccScale = d3.scaleLinear().domain([0,5,10,15,19,22])
  .range(['#06065a','#1020a0','#1a48e6','#1080f0','#00c4ff','#00e6ff']).clamp(true);
const wccScale = d3.scaleLinear().domain([22,150]).range(['#b4b4b4','#0a0a0a']).clamp(true);
const nccScale = d3.scaleLinear().domain([150,300]).range(['#ffe800','#ff6600']).clamp(true);
function entropyColor(k){ return k<22 ? sccScale(k) : (k<150 ? wccScale(k) : nccScale(k)); }

// ---------------- LAYOUT
const svg = d3.select('#chart');
svg.append('rect').attr('width',1683).attr('height',1107).attr('fill','#fff');
const P = {l:129, r:1431, t:107, b:1023};
const x = d3.scaleLinear().domain([0,13.745]).range([P.l,P.r]);
const y = d3.scaleLog().domain([8.7e-4,32.4]).range([P.b,P.t]);
const FONT = 'DejaVu Sans';

function styleTicks(g, w){
  g.select('.domain').remove();
  g.selectAll('line').attr('stroke','#000').attr('stroke-width',w);
  g.selectAll('text').attr('font-family',FONT).attr('font-size',24).attr('fill','#000');
}
function powerLabels(g){
  g.selectAll('.tick text').each(function(d){
    const e = Math.round(Math.log10(d));
    const t = d3.select(this); t.text(null);
    t.append('tspan').text('10');
    t.append('tspan').attr('dy',-10).attr('font-size',17).text(String(e));
  });
}
function gridStyle(g){
  g.select('.domain').remove();
  g.selectAll('line').attr('stroke','#cccccc').attr('stroke-width',1).attr('stroke-dasharray','4,2');
}

// grid
gridStyle(svg.append('g').attr('transform',`translate(0,${P.b})`)
  .call(d3.axisBottom(x).tickValues(lookbackTicks).tickSize(-(P.b-P.t)).tickFormat('')));
gridStyle(svg.append('g').attr('transform',`translate(${P.l},0)`)
  .call(d3.axisLeft(y).tickValues(coolingTicks).tickSize(-(P.r-P.l)).tickFormat('')));

// scatter (drawn in time order)
const allPoints = [].concat(nccEpoch, nccEpochFill, earlyWcc, earlyWccFill, midWcc, midWccFill,
  zoomWindow, zoomWindowFine, lateWcc, lateWccFill, sccEpoch, sccEpochFill)
  .sort((a,b)=>a[0]-b[0]);
svg.append('g').selectAll('circle').data(allPoints).join('circle')
  .attr('cx',d=>x(d[0])).attr('cy',d=>y(d[1])).attr('r',8.3)
  .attr('fill',d=>entropyColor(d[2]));

// regime lines
svg.append('line').attr('x1',P.l+1).attr('x2',P.r).attr('y1',y(nccThreshold)).attr('y2',y(nccThreshold))
  .attr('stroke','#000').attr('stroke-width',8).attr('stroke-dasharray','31.5,13.5');
svg.append('line').attr('x1',P.l).attr('x2',P.r).attr('y1',y(sccThreshold)).attr('y2',y(sccThreshold))
  .attr('stroke','#000').attr('stroke-width',7);

// regime labels
[['NCC',217],['WCC',403],['SCC',453]].forEach(([s,b])=>{
  svg.append('text').attr('x',148).attr('y',b).attr('font-family',FONT).attr('font-size',36).text(s);
});

// axes
const axB = svg.append('g').attr('transform',`translate(0,${P.b})`)
  .call(d3.axisBottom(x).tickValues(lookbackTicks).tickSize(12).tickPadding(11).tickFormat(d3.format('d')));
styleTicks(axB,5);
const axT = svg.append('g').attr('transform',`translate(0,${P.t})`)
  .call(d3.axisTop(x).tickValues(redshiftLookback).tickSize(12).tickPadding(13).tickFormat((d,i)=>redshiftLabels[i]));
styleTicks(axT,5);
const axL = svg.append('g').attr('transform',`translate(${P.l},0)`)
  .call(d3.axisLeft(y).tickValues(coolingTicks).tickSize(12).tickPadding(5));
styleTicks(axL,5); powerLabels(axL);
const minorY = [];
for(let e=-4;e<=1;e++) for(let k=2;k<=9;k++){ const v=k*Math.pow(10,e); if(v>8.7e-4 && v<32.4) minorY.push(v); }
const axLm = svg.append('g').attr('transform',`translate(${P.l},0)`)
  .call(d3.axisLeft(y).tickValues(minorY).tickSize(5).tickFormat(''));
styleTicks(axLm,2);

// zoom box & connectors
svg.append('rect').attr('x',x(zoomBox.t0)).attr('y',y(zoomBox.c1))
  .attr('width',x(zoomBox.t1)-x(zoomBox.t0)).attr('height',y(zoomBox.c0)-y(zoomBox.c1))
  .attr('fill','none').attr('stroke','#a0a0a0').attr('stroke-width',1.2);

// ---------------- INSET
const I = {l:267, r:917, t:565, b:932};
const ix = d3.scaleLinear().domain([zoomBox.t0,zoomBox.t1]).range([I.l,I.r]);
const iy = d3.scaleLog().domain([zoomBox.c0,zoomBox.c1]).range([I.b,I.t]);
svg.append('line').attr('x1',x(zoomBox.t0)).attr('y1',y(zoomBox.c1)).attr('x2',I.l).attr('y2',I.t)
  .attr('stroke','#a0a0a0').attr('stroke-width',1.2);
svg.append('line').attr('x1',x(zoomBox.t1)).attr('y1',y(zoomBox.c0)).attr('x2',I.r).attr('y2',I.b)
  .attr('stroke','#a0a0a0').attr('stroke-width',1.2);

svg.append('clipPath').attr('id','insetClip').append('rect')
  .attr('x',I.l).attr('y',I.t).attr('width',I.r-I.l).attr('height',I.b-I.t);
gridStyle(svg.append('g').attr('transform',`translate(0,${I.b})`)
  .call(d3.axisBottom(ix).tickValues(insetTimeTicks).tickSize(-(I.b-I.t)).tickFormat('')));
gridStyle(svg.append('g').attr('transform',`translate(${I.l},0)`)
  .call(d3.axisLeft(iy).tickValues(insetCoolingTicks).tickSize(-(I.r-I.l)).tickFormat('')));
const insetSeries = zoomWindow.concat(zoomWindowFine).sort((a,b)=>a[0]-b[0]);
const ig = svg.append('g').attr('clip-path','url(#insetClip)');
ig.append('path').datum(insetSeries)
  .attr('d',d3.line().x(d=>ix(d[0])).y(d=>iy(d[1])))
  .attr('fill','none').attr('stroke','#666666').attr('stroke-width',7).attr('stroke-linejoin','round');
ig.selectAll('circle').data(insetSeries.filter(d=>d[2]>=150)).join('circle')
  .attr('cx',d=>ix(d[0])).attr('cy',d=>iy(d[1])).attr('r',5).attr('fill',d=>entropyColor(d[2]));
ig.append('line').attr('x1',I.l).attr('x2',I.r).attr('y1',iy(nccThreshold)).attr('y2',iy(nccThreshold))
  .attr('stroke','#000').attr('stroke-width',8).attr('stroke-dasharray','31.5,13.5').attr('stroke-dashoffset',33);
ig.append('line').attr('x1',I.l).attr('x2',I.r).attr('y1',iy(sccThreshold)).attr('y2',iy(sccThreshold))
  .attr('stroke','#000').attr('stroke-width',8);
const iaxB = svg.append('g').attr('transform',`translate(0,${I.b})`)
  .call(d3.axisBottom(ix).tickValues(insetTimeTicks).tickSize(12).tickPadding(9).tickFormat(d3.format('.2f')));
styleTicks(iaxB,5);
const iaxL = svg.append('g').attr('transform',`translate(${I.l},0)`)
  .call(d3.axisLeft(iy).tickValues(insetCoolingTicks).tickSize(12).tickPadding(8));
styleTicks(iaxL,5); powerLabels(iaxL);
const iMinor = [0.5,0.6,0.7,0.8,0.9,2,3,4,5,6,7,8,9];
styleTicks(svg.append('g').attr('transform',`translate(${I.l},0)`)
  .call(d3.axisLeft(iy).tickValues(iMinor).tickSize(5).tickFormat('')),2);
svg.append('rect').attr('x',I.l).attr('y',I.t).attr('width',I.r-I.l).attr('height',I.b-I.t)
  .attr('fill','none').attr('stroke','#000').attr('stroke-width',4);

// main frame
svg.append('rect').attr('x',P.l).attr('y',P.t).attr('width',P.r-P.l).attr('height',P.b-P.t)
  .attr('fill','none').attr('stroke','#000').attr('stroke-width',4);

// axis titles
svg.append('text').attr('x',(P.l+P.r)/2).attr('y',1097).attr('text-anchor','middle')
  .attr('font-family',FONT).attr('font-size',33).text('Lookback Time [Gyr]');
svg.append('text').attr('x',(P.l+P.r)/2).attr('y',56).attr('text-anchor','middle')
  .attr('font-family',FONT).attr('font-size',33).text('Redshift');
svg.append('text').attr('transform',`translate(47,${(P.t+P.b)/2}) rotate(-90)`).attr('text-anchor','middle')
  .attr('font-family',FONT).attr('font-size',33).text('Central Cooling Time [Gyr]');

// ---------------- COLORBAR
const C = {l:1512, r:1558, t:107, b:1023};
const cb = d3.scaleLinear().domain([0,300]).range([C.b,C.t]);
const cbg = svg.append('g').attr('shape-rendering','crispEdges');
for(let py=C.t; py<C.b; py++){
  cbg.append('rect').attr('x',C.l).attr('y',py).attr('width',C.r-C.l).attr('height',1.2)
    .attr('fill',entropyColor(cb.invert(py+0.5)));
}
svg.append('rect').attr('x',C.l).attr('y',C.t).attr('width',C.r-C.l).attr('height',C.b-C.t)
  .attr('fill','none').attr('stroke','#000').attr('stroke-width',3.5);
const cax = svg.append('g').attr('transform',`translate(${C.r},0)`)
  .call(d3.axisRight(cb).tickValues(entropyTicks).tickSize(13).tickPadding(8));
styleTicks(cax,5);
[['NCC',225,'#000'],['WCC',86,'#fff'],['SCC',11,'#fff']].forEach(([s,v,c])=>{
  svg.append('text').attr('transform',`translate(1547,${cb(v)}) rotate(-90)`).attr('text-anchor','middle')
    .attr('font-family',FONT).attr('font-size',33).attr('fill',c).text(s);
});
const cl = svg.append('text').attr('transform',`translate(1665,563) rotate(-90)`).attr('text-anchor','middle')
  .attr('font-family',FONT).attr('font-size',33);
cl.append('tspan').text('Central Entropy [keV cm');
cl.append('tspan').attr('dy',-14).attr('font-size',23).text('2');
cl.append('tspan').attr('dy',14).text(']');

// credit
svg.append('text').attr('x',1650).attr('y',30).attr('text-anchor','end')
  .attr('font-family','Roboto, "Open Sans", sans-serif').attr('font-weight',300)
  .attr('font-size',30).attr('fill','#34377d').text('Lehle+(in prep)');
</script>
</body></html>
